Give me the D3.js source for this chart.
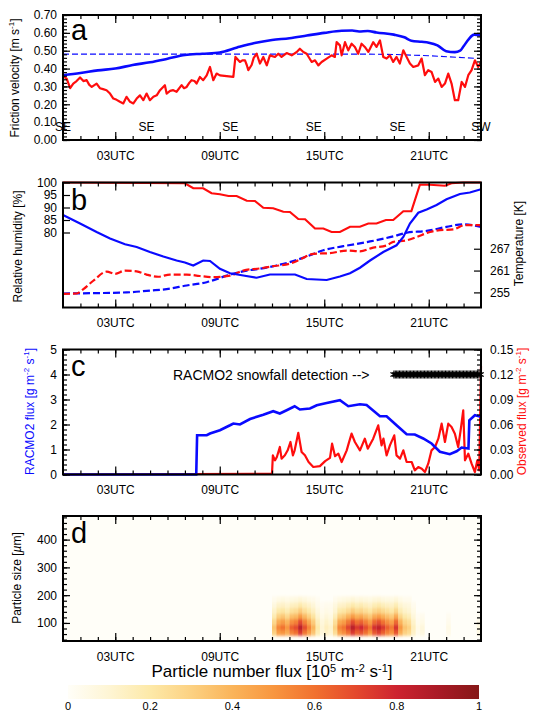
<!DOCTYPE html>
<html>
<head>
<meta charset="utf-8">
<script src="https://cdn.jsdelivr.net/npm/d3@7"></script>
<style>
  body { margin: 0; background: #fff; }
  svg { display: block; }
</style>
</head>
<body>
<div id="chart"></div>
<script>
// ---- data (hours UTC) ----
var ustarModel = [[0,0.363],[1,0.375],[2,0.39],[3,0.40],[4,0.42],[5,0.435],[6,0.455],[7,0.476],[8,0.483],[9,0.49],[10,0.518],[11,0.543],[12,0.56],[13,0.57],[14,0.585],[15,0.60],[16,0.612],[16.6,0.613],[17,0.608],[17.5,0.61],[18,0.602],[19,0.59],[19.6,0.575],[20,0.556],[20.6,0.55],[21,0.545],[21.5,0.53],[22,0.497],[22.5,0.492],[22.8,0.50],[23,0.525],[23.3,0.565],[23.6,0.59],[24,0.585]];
var ustarThreshold = [[0,0.481],[17.5,0.481],[19,0.479],[21,0.472],[24,0.456]];
var ustarObs = [[0,0.357],[0.21,0.344],[0.41,0.29],[0.59,0.316],[0.78,0.33],[0.98,0.35],[1.17,0.33],[1.36,0.335],[1.5,0.31],[1.65,0.297],[1.93,0.316],[2.12,0.29],[2.3,0.285],[2.5,0.279],[2.7,0.26],[2.89,0.232],[3.08,0.225],[3.27,0.214],[3.46,0.205],[3.65,0.242],[3.85,0.214],[4.04,0.205],[4.23,0.232],[4.42,0.25],[4.61,0.223],[4.8,0.26],[4.99,0.223],[5.19,0.242],[5.38,0.25],[5.57,0.279],[5.85,0.307],[5.95,0.26],[6.15,0.275],[6.33,0.279],[6.52,0.27],[6.81,0.307],[6.95,0.29],[7.1,0.297],[7.25,0.32],[7.38,0.335],[7.55,0.33],[7.67,0.316],[7.86,0.353],[8.05,0.335],[8.25,0.362],[8.44,0.409],[8.63,0.335],[8.82,0.372],[9.01,0.362],[9.78,0.353],[9.9,0.465],[10.16,0.437],[10.3,0.446],[10.45,0.446],[10.55,0.42],[10.64,0.391],[10.83,0.42],[10.95,0.46],[11.12,0.483],[11.31,0.428],[11.5,0.465],[11.7,0.418],[11.88,0.474],[12.17,0.465],[12.36,0.483],[12.55,0.465],[12.84,0.487],[13.13,0.474],[13.42,0.493],[13.6,0.511],[13.8,0.493],[13.99,0.483],[14.28,0.437],[14.47,0.446],[14.66,0.418],[14.85,0.437],[15.14,0.456],[15.42,0.474],[15.61,0.465],[15.71,0.548],[15.9,0.53],[16.0,0.474],[16.19,0.548],[16.38,0.502],[16.57,0.539],[16.76,0.521],[16.95,0.483],[17.14,0.539],[17.33,0.521],[17.53,0.493],[17.81,0.548],[18.0,0.521],[18.2,0.558],[18.39,0.465],[18.58,0.456],[18.77,0.474],[18.96,0.437],[19.15,0.465],[19.34,0.428],[19.54,0.502],[19.73,0.465],[19.92,0.428],[20.11,0.409],[20.4,0.418],[20.59,0.456],[20.78,0.363],[20.97,0.391],[21.16,0.381],[21.36,0.325],[21.55,0.344],[21.74,0.297],[21.93,0.316],[22.12,0.372],[22.31,0.316],[22.5,0.223],[22.69,0.223],[22.89,0.325],[23.08,0.297],[23.27,0.363],[23.46,0.391],[23.65,0.446],[23.84,0.409],[24,0.437]];
var windDirHours = [0, 4.8, 9.6, 14.4, 19.2, 24];
var windDirLabels = ["SE", "SE", "SE", "SE", "SE", "SW"];

var rhObs = [[0,100],[7,99.7],[7.48,97.7],[8.05,97.7],[8.53,95.7],[9.01,95.3],[9.5,94.6],[9.97,94.6],[10.55,92.7],[11.02,92.6],[11.5,89.9],[12.07,89.7],[12.65,88.3],[13.03,88.2],[13.51,85.4],[13.9,85.3],[14.47,81.6],[14.95,81.6],[15.42,80.2],[15.9,80.2],[16.48,82.3],[17.05,82.3],[17.53,83.6],[18.0,83.6],[18.54,85],[18.96,85],[19.54,88.5],[20.0,88.5],[20.49,99.1],[21.07,99.1],[21.93,98.7],[22.31,99.7],[22.98,100],[24,100]];
var rhModel = [[0,87.0],[0.98,83.6],[1.93,80.2],[2.7,77.6],[3.56,75.3],[4.23,74.2],[4.99,72.2],[5.76,70.4],[6.52,68.8],[7.0,68.0],[7.48,66.8],[8.05,68.8],[8.44,68.6],[9.01,65.5],[9.59,63.7],[10.35,62.8],[11.12,61.9],[11.88,63.2],[12.84,63.2],[13.32,63.2],[13.99,61.4],[15.14,61.0],[15.9,62.4],[16.48,63.7],[17.05,65.9],[17.63,68.8],[18.39,72.2],[19.15,74.9],[19.54,78.2],[19.92,83.6],[20.4,87.9],[20.88,89.2],[21.45,91.0],[22.02,93.3],[22.79,95.4],[23.36,96.0],[24,97.3]];
var tempObs = [[0,254.6],[0.79,254.7],[1.17,255.9],[1.74,258.2],[2.51,260.7],[2.99,260.1],[3.56,261.0],[4.23,260.8],[4.8,259.9],[5.47,259.3],[6.14,259.9],[7.1,259.9],[7.86,259.5],[8.63,259.2],[9.59,259.6],[10.35,261.0],[11.31,261.6],[12.07,262.2],[13.03,262.9],[13.6,264.0],[14.38,265.6],[15.33,265.8],[16.29,266.5],[17.05,266.3],[17.81,267.3],[18.58,267.9],[18.96,268.9],[19.73,269.3],[20.3,270.2],[21.07,271.6],[21.64,272.1],[22.41,272.3],[23.08,273.5],[24,273.5]];
var tempModel = [[0,254.7],[3.65,255.0],[4.99,255.5],[5.95,255.9],[7.1,256.9],[8.25,257.8],[9.4,259.6],[10.55,261.0],[11.31,261.5],[12.26,262.4],[13.22,263.6],[14.18,265.2],[14.95,266.6],[16.1,267.7],[17.63,269.0],[18.96,270.4],[19.73,271.4],[20.88,271.9],[22.02,273.0],[22.98,273.7],[24,273.0]];

var fluxModel = [[0,0],[7.65,0],[7.7,1.57],[8.25,1.57],[8.44,1.64],[9.01,1.77],[9.59,1.97],[9.78,2.04],[10.16,2.0],[10.74,2.22],[11.5,2.39],[12.07,2.53],[12.45,2.44],[12.84,2.57],[13.3,2.73],[13.6,2.6],[14.18,2.64],[14.57,2.77],[15.14,2.86],[15.9,2.97],[16.38,2.73],[17.05,2.81],[17.43,2.78],[18.2,2.33],[18.58,2.33],[19.15,1.97],[19.73,1.61],[20.2,1.6],[20.68,1.44],[21.16,1.24],[21.64,0.91],[22.21,0.81],[22.6,0.93],[22.89,1.08],[23.28,1.04],[23.33,2.17],[23.65,2.37],[24,2.31]];
var fluxObs = [[0,0],[12.0,0.001],[12.05,0.023],[12.17,0.017],[12.28,0.021],[12.45,0.033],[12.55,0.019],[12.74,0.023],[12.9,0.029],[13.06,0.039],[13.2,0.023],[13.3,0.029],[13.51,0.050],[13.7,0.027],[13.89,0.023],[14.1,0.015],[14.37,0.009],[14.75,0.010],[15.05,0.016],[15.33,0.020],[15.45,0.037],[15.62,0.022],[15.81,0.025],[16.0,0.015],[16.29,0.029],[16.4,0.037],[16.57,0.049],[16.76,0.039],[17.05,0.029],[17.33,0.043],[17.5,0.031],[17.81,0.043],[18.1,0.059],[18.29,0.035],[18.4,0.043],[18.58,0.023],[18.77,0.035],[19.02,0.047],[19.15,0.023],[19.35,0.019],[19.54,0.029],[19.73,0.015],[20.02,0.015],[20.2,0.005],[20.4,0.009],[20.6,0.007],[20.78,0.003],[20.97,0.013],[21.16,0.029],[21.36,0.033],[21.55,0.043],[21.74,0.061],[21.93,0.039],[22.12,0.061],[22.31,0.057],[22.5,0.049],[22.69,0.033],[22.83,0.053],[22.98,0.077],[23.08,0.017],[23.27,0.025],[23.46,0.013],[23.65,0.003],[23.79,0.017],[23.9,0.005],[24,0.13]];
var snowfallPeriod = [19.0, 24.0];   // RACMO2 snowfall detection

// particle number flux (10^5 m-2 s-1), columns every 15 min from 12 UTC, rows = size bins
var fluxStartHour = 12, fluxStepHours = 0.25;
var sizeBins = [65, 85, 105, 125, 145, 165, 185];
var sizeBinWidth = 20;
var pnFlux = [
  [0.30,0.47,0.50,0.43,0.55,0.60,0.74,0.58,0.47,0.34,0.17,0.08,0.13,0.10,0.25,0.46,0.52,0.60,0.74,0.64,0.68,0.60,0.50,0.66,0.72,0.64,0.55,0.50,0.66,0.42,0.30,0.26,0.13,0.04,0.07,0,0,0,0,0,0.04,0,0,0,0,0,0,0.05],
  [0.35,0.55,0.60,0.50,0.65,0.70,0.86,0.70,0.55,0.40,0.20,0.10,0.15,0.12,0.30,0.55,0.60,0.72,0.86,0.75,0.80,0.70,0.60,0.78,0.84,0.75,0.65,0.58,0.76,0.50,0.35,0.30,0.15,0.05,0.08,0,0,0,0,0,0.05,0,0,0,0,0,0,0.06],
  [0.27,0.43,0.48,0.40,0.52,0.56,0.70,0.56,0.44,0.32,0.16,0.08,0.12,0.09,0.24,0.44,0.48,0.58,0.70,0.60,0.64,0.56,0.48,0.62,0.68,0.60,0.52,0.46,0.62,0.40,0.28,0.24,0.12,0.03,0.05,0,0,0,0,0,0.03,0,0,0,0,0,0,0.04],
  [0.18,0.30,0.33,0.27,0.36,0.38,0.48,0.38,0.30,0.22,0.11,0.05,0.08,0.06,0.16,0.30,0.33,0.40,0.48,0.41,0.44,0.38,0.33,0.43,0.47,0.41,0.36,0.32,0.43,0.27,0.19,0.16,0.08,0.02,0.03,0,0,0,0,0,0.02,0,0,0,0,0,0,0.02],
  [0.12,0.19,0.21,0.17,0.23,0.25,0.31,0.24,0.19,0.14,0.07,0.03,0.05,0.04,0.10,0.19,0.21,0.25,0.31,0.26,0.28,0.24,0.21,0.27,0.30,0.26,0.23,0.20,0.27,0.17,0.12,0.10,0.05,0,0,0,0,0,0,0,0,0,0,0,0,0,0,0],
  [0.07,0.12,0.13,0.11,0.14,0.15,0.19,0.15,0.12,0.09,0.04,0.02,0.03,0.03,0.07,0.12,0.13,0.16,0.19,0.16,0.18,0.15,0.13,0.17,0.19,0.16,0.14,0.13,0.17,0.11,0.08,0.07,0.03,0,0,0,0,0,0,0,0,0,0,0,0,0,0,0],
  [0.03,0.05,0.06,0.05,0.06,0.07,0.09,0.07,0.05,0.04,0.02,0,0,0,0.03,0.05,0.06,0.07,0.09,0.07,0.08,0.07,0.06,0.08,0.09,0.07,0.06,0.06,0.08,0.05,0.03,0.03,0,0,0,0,0,0,0,0,0,0,0,0,0,0,0,0]
];
var colorStops = [0, 0.1, 0.2, 0.3, 0.4, 0.5, 0.6, 0.7, 0.8, 0.9, 1.0];
var colorList = ["#fffef8", "#fef5d4", "#fde9a8", "#fcd182", "#fab45a", "#f8963f", "#f1712f", "#e4492d", "#cd2330", "#aa1a26", "#861818"];
var colorbarTicks = [0, 0.2, 0.4, 0.6, 0.8, 1];

var majorHours = [3, 9, 15, 21];

// ---- layout ----
var FONT = "'Liberation Sans', Arial, Helvetica, sans-serif";
var BLUE = "#0a0aff", RED = "#ff0d0d";
var left = 63, right = 481, ph = 125;
var tops = [15, 182.5, 349.5, 516];

var svg = d3.select("#chart").append("svg")
  .attr("width", 533).attr("height", 711)
  .style("font-family", FONT);

var x = d3.scaleLinear().domain([0, 24]).range([left, right]);

function styleAxis(g, size) {
  g.select(".domain").remove();
  g.attr("font-family", FONT).attr("font-size", size || 12);
  g.selectAll("line").attr("stroke", "#000").attr("stroke-width", 1.2);
  g.selectAll("text").attr("fill", "#000");
}

function timeAxes(top) {
  var bottom = top + ph;
  var minor = d3.range(1, 24);
  svg.append("g").attr("transform", "translate(0," + bottom + ")")
    .call(d3.axisBottom(x).tickValues(minor).tickSize(-4).tickFormat(""))
    .call(styleAxis);
  svg.append("g").attr("transform", "translate(0," + bottom + ")")
    .call(d3.axisBottom(x).tickValues(majorHours).tickSize(-8).tickPadding(11)
      .tickFormat(function(d) { return d3.format("02d")(d) + "UTC"; }))
    .call(styleAxis);
  svg.append("g").attr("transform", "translate(0," + top + ")")
    .call(d3.axisTop(x).tickValues(minor).tickSize(-4).tickFormat(""))
    .call(styleAxis);
  svg.append("g").attr("transform", "translate(0," + top + ")")
    .call(d3.axisTop(x).tickValues(majorHours).tickSize(-8).tickFormat(""))
    .call(styleAxis);
}

function yAxis(scale, side, major, minor, fmt) {
  var xpos = side == "left" ? left : right;
  var mk = side == "left" ? d3.axisLeft : d3.axisRight;
  if (minor) {
    svg.append("g").attr("transform", "translate(" + xpos + ",0)")
      .call(mk(scale).tickValues(minor).tickSize(-4).tickFormat(""))
      .call(styleAxis);
  }
  svg.append("g").attr("transform", "translate(" + xpos + ",0)")
    .call(mk(scale).tickValues(major).tickSize(-7).tickPadding(side == "left" ? 6 : 9)
      .tickFormat(fmt ? fmt : ""))
    .call(styleAxis);
}

function frame(top) {
  svg.append("rect").attr("x", left).attr("y", top)
    .attr("width", right - left).attr("height", ph)
    .attr("fill", "none").attr("stroke", "#000").attr("stroke-width", 2);
}

// rich text with superscripts: parts = [text, text, {sup: ".."}, ...]
function rich(sel, parts, supSize) {
  var shift = 0;
  parts.forEach(function(p) {
    var t = sel.append("tspan");
    if (typeof p === "string") {
      t.attr("dy", -shift).text(p); shift = 0;
    } else {
      t.attr("dy", -5 - shift).attr("font-size", supSize || 8).text(p.sup); shift = -5;
    }
  });
}

function yTitle(cx, cy, parts, color, size) {
  var t = svg.append("text")
    .attr("transform", "translate(" + cx + "," + cy + ") rotate(-90)")
    .attr("text-anchor", "middle").attr("font-size", size || 12)
    .attr("fill", color || "#000");
  rich(t, parts);
}

function panelLetter(top, letter, base) {
  svg.append("text").attr("x", 71).attr("y", top + base)
    .attr("font-size", 29).attr("fill", "#000").text(letter);
}

// ---------- panel a ----------
var ya = d3.scaleLinear().domain([0, 0.7]).range([tops[0] + ph, tops[0]]);
var lineA = d3.line().x(function(d) { return x(d[0]); }).y(function(d) { return ya(d[1]); });

svg.append("path").datum(ustarThreshold).attr("d", lineA)
  .attr("fill", "none").attr("stroke", BLUE).attr("stroke-width", 1.1).attr("stroke-dasharray", "6,3");
svg.append("path").datum(ustarObs).attr("d", lineA)
  .attr("fill", "none").attr("stroke", RED).attr("stroke-width", 2.2).attr("stroke-linejoin", "round");
svg.append("path").datum(ustarModel).attr("d", d3.line().curve(d3.curveMonotoneX)
    .x(function(d) { return x(d[0]); }).y(function(d) { return ya(d[1]); }))
  .attr("fill", "none").attr("stroke", BLUE).attr("stroke-width", 2.6);

svg.selectAll(".wind").data(windDirHours).enter().append("text")
  .attr("x", function(d) { return x(d); }).attr("y", tops[0] + 116)
  .attr("text-anchor", "middle").attr("font-size", 12).attr("fill", "#000")
  .text(function(d, i) { return windDirLabels[i]; });

timeAxes(tops[0]);
yAxis(ya, "left", d3.range(0, 0.71, 0.1), d3.range(0, 0.71, 0.02), d3.format(".2f"));
yAxis(ya, "right", d3.range(0, 0.71, 0.1), d3.range(0, 0.71, 0.02), null);
frame(tops[0]);
panelLetter(tops[0], "a", 25);
yTitle(19, tops[0] + 63, ["Friction velocity [m s", {sup: "-1"}, "]"]);

// ---------- panel b ----------
var bBottom = tops[1] + ph;
var yRH = d3.scaleLinear().domain([50, 100]).range([bBottom, tops[1]]);
var yT = d3.scaleLinear().domain([250.85, 285.2]).range([bBottom, tops[1]]);
var lineRH = d3.line().x(function(d) { return x(d[0]); }).y(function(d) { return yRH(d[1]); });
var lineT = d3.line().curve(d3.curveMonotoneX).x(function(d) { return x(d[0]); }).y(function(d) { return yT(d[1]); });

svg.append("path").datum(tempModel).attr("d", lineT)
  .attr("fill", "none").attr("stroke", BLUE).attr("stroke-width", 2.2).attr("stroke-dasharray", "7,3");
svg.append("path").datum(tempObs).attr("d", lineT)
  .attr("fill", "none").attr("stroke", RED).attr("stroke-width", 2.2).attr("stroke-dasharray", "7,3");
svg.append("path").datum(rhObs).attr("d", lineRH)
  .attr("fill", "none").attr("stroke", RED).attr("stroke-width", 2.2);
svg.append("path").datum(rhModel).attr("d", lineRH)
  .attr("fill", "none").attr("stroke", BLUE).attr("stroke-width", 2.2);

timeAxes(tops[1]);
yAxis(yRH, "left", [80, 85, 90, 95, 100], null, d3.format("d"));
yAxis(yT, "right", [255, 261, 267], null, d3.format("d"));
frame(tops[1]);
panelLetter(tops[1], "b", 27);
yTitle(22, tops[1] + 64, ["Relative humidity [%]"]);
yTitle(523, tops[1] + 61, ["Temperature [K]"]);

// ---------- panel c ----------
var cBottom = tops[2] + ph;
var yFm = d3.scaleLinear().domain([0, 5]).range([cBottom, tops[2]]);
var yFo = d3.scaleLinear().domain([0, 0.15]).range([cBottom, tops[2]]);

svg.append("path").datum(fluxObs)
  .attr("d", d3.line().x(function(d) { return x(d[0]); }).y(function(d) { return yFo(d[1]); }))
  .attr("fill", "none").attr("stroke", RED).attr("stroke-width", 2.2).attr("stroke-linejoin", "round");
svg.append("path").datum(fluxModel)
  .attr("d", d3.line().x(function(d) { return x(d[0]); }).y(function(d) { return yFm(d[1]); }))
  .attr("fill", "none").attr("stroke", BLUE).attr("stroke-width", 2.6);

var astHours = d3.range(snowfallPeriod[0], snowfallPeriod[1] + 0.001, 0.08);
svg.selectAll(".ast").data(astHours).enter().append("path")
  .attr("transform", function(d) { return "translate(" + x(d) + "," + yFm(4) + ")"; })
  .attr("d", d3.symbol(d3.symbolAsterisk, 45))
  .attr("fill", "none").attr("stroke", "#000").attr("stroke-width", 1.1);
svg.append("text").attr("x", 173).attr("y", yFm(4) + 5)
  .attr("font-size", 14).attr("fill", "#000").text("RACMO2 snowfall detection -->");

timeAxes(tops[2]);
yAxis(yFm, "left", d3.range(0, 5.01, 1), d3.range(0, 5.01, 0.2), d3.format("d"));
yAxis(yFo, "right", d3.range(0, 0.151, 0.03), d3.range(0, 0.151, 0.006), d3.format(".2f"));
frame(tops[2]);
panelLetter(tops[2], "c", 26);
yTitle(34, tops[2] + 62, ["RACMO2 flux [g m", {sup: "-2"}, " s", {sup: "-1"}, "]"], BLUE);
yTitle(526, tops[2] + 62, ["Observed flux [g m", {sup: "-2"}, " s", {sup: "-1"}, "]"], RED);

// ---------- panel d ----------
var dBottom = tops[3] + ph;
var yS = d3.scaleLinear().domain([35, 485]).range([dBottom, tops[3]]);
var color = d3.scaleLinear().domain(colorStops).range(colorList).clamp(true);

svg.append("rect").attr("x", left).attr("y", tops[3]).attr("width", right - left).attr("height", ph)
  .attr("fill", color(0));

var defs = svg.append("defs");
defs.append("clipPath").attr("id", "clipd").append("rect")
  .attr("x", left).attr("y", tops[3]).attr("width", right - left).attr("height", ph);
defs.append("filter").attr("id", "soft").attr("x", "-5%").attr("y", "-20%").attr("width", "110%").attr("height", "140%")
  .append("feGaussianBlur").attr("stdDeviation", "0.7 1.5");

var cells = [];
pnFlux.forEach(function(row, i) {
  row.forEach(function(v, j) {
    if (v > 0) cells.push({size: sizeBins[i], t: fluxStartHour + j * fluxStepHours, v: v});
  });
});
svg.append("g").attr("clip-path", "url(#clipd)").append("g").attr("filter", "url(#soft)")
  .selectAll("rect").data(cells).enter().append("rect")
  .attr("x", function(d) { return x(d.t); })
  .attr("width", function(d) { return x(d.t + fluxStepHours) - x(d.t) + 0.3; })
  .attr("y", function(d) { return yS(d.size + sizeBinWidth / 2); })
  .attr("height", function(d) { return yS(d.size - sizeBinWidth / 2) - yS(d.size + sizeBinWidth / 2) + 0.3; })
  .attr("fill", function(d) { return color(d.v); });

timeAxes(tops[3]);
yAxis(yS, "left", [100, 200, 300, 400], d3.range(40, 481, 20), d3.format("d"));
yAxis(yS, "right", [100, 200, 300, 400], d3.range(40, 481, 20), null);
frame(tops[3]);
panelLetter(tops[3], "d", 27);
var pst = svg.append("text")
  .attr("transform", "translate(21," + (tops[3] + 62) + ") rotate(-90)")
  .attr("text-anchor", "middle").attr("font-size", 12).attr("fill", "#000");
pst.append("tspan").text("Particle size [");
pst.append("tspan").attr("font-style", "italic").text("\u00b5");
pst.append("tspan").text("m]");

var xt = svg.append("text").attr("x", 272).attr("y", 677)
  .attr("text-anchor", "middle").attr("font-size", 17).attr("fill", "#000");
rich(xt, ["Particle number flux [10", {sup: "5"}, " m", {sup: "-2"}, " s", {sup: "-1"}, "]"], 11);

// ---- colorbar ----
var cb = d3.scaleLinear().domain([0, 1]).range([68, 479]);
var grad = defs.append("linearGradient").attr("id", "cbar")
  .attr("x1", "0%").attr("x2", "100%").attr("y1", "0%").attr("y2", "0%");
colorStops.forEach(function(s, i) {
  grad.append("stop").attr("offset", (s * 100) + "%").attr("stop-color", colorList[i]);
});
svg.append("rect").attr("x", cb(0)).attr("y", 685).attr("width", cb(1) - cb(0)).attr("height", 14)
  .attr("fill", "url(#cbar)");
svg.selectAll(".cbt").data(colorbarTicks).enter().append("text")
  .attr("x", function(d) { return cb(d); }).attr("y", 710)
  .attr("text-anchor", "middle").attr("font-size", 11).attr("fill", "#000")
  .text(function(d) { return d3.format("")(d); });
</script>
</body>
</html>
